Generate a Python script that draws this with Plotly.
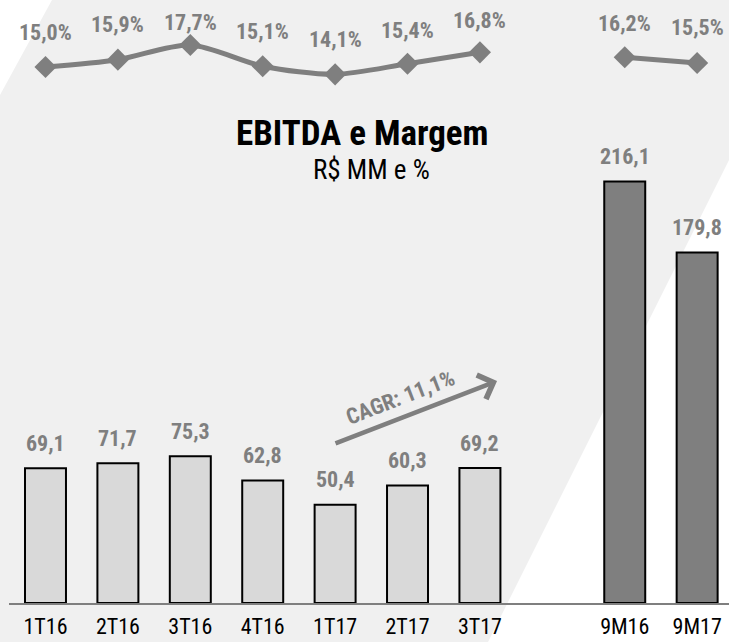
import plotly.graph_objects as go

# ---- data ----
categories_q = ["1T16", "2T16", "3T16", "4T16", "1T17", "2T17", "3T17"]
ebitda_q = [69.1, 71.7, 75.3, 62.8, 50.4, 60.3, 69.2]
margin_q = [15.0, 15.9, 17.7, 15.1, 14.1, 15.4, 16.8]

categories_9m = ["9M16", "9M17"]
ebitda_9m = [216.1, 179.8]
margin_9m = [16.2, 15.5]

cagr_label = "CAGR: 11,1%"
title_text = "EBITDA e Margem"
subtitle_text = "R$ MM e %"

# ---- positions (slot index on the category axis; one empty slot before 9M) ----
x_q = list(range(len(categories_q)))
x_9m = [len(categories_q) + 1 + i for i in range(len(categories_9m))]

# per-label vertical offsets (px) for the margin labels
margin_shift_q = [35, 35, 23, 35, 35, 33, 32]
margin_shift_9m = [34, 35]

W, H = 729, 642
ML, MR, MT, MB = 9, 0, 0, 39
PW, PH = W - ML - MR, H - MT - MB

FONT_C = "Roboto Condensed, Liberation Sans Narrow, DejaVu Sans Condensed, Roboto, sans-serif"
GRAY = "#7f7f7f"
PX_PER_UNIT = 1.95          # bar axis scale
PCT_PX = 8.15               # margin axis scale
PCT_REF, PCT_REF_Y = 15.0, 67


def fmt(v, suffix=""):
    return f"{v:.1f}".replace(".", ",") + suffix


def px2paper(px, py):
    return ((px - ML) / PW, 1 - (py - MT) / PH)


fig = go.Figure()

# bars
fig.add_trace(go.Bar(x=x_q, y=ebitda_q, width=0.566,
                     marker=dict(color="#d9d9d9", line=dict(color="black", width=2)),
                     hoverinfo="skip", showlegend=False))
fig.add_trace(go.Bar(x=x_9m, y=ebitda_9m, width=0.566,
                     marker=dict(color=GRAY, line=dict(color="black", width=2)),
                     hoverinfo="skip", showlegend=False))

# margin lines
fig.add_trace(go.Scatter(x=x_q, y=margin_q, yaxis="y2", mode="lines+markers",
                         line=dict(color=GRAY, width=5, shape="spline", smoothing=0.8),
                         marker=dict(symbol="diamond", size=17, color=GRAY),
                         hoverinfo="skip", showlegend=False))
fig.add_trace(go.Scatter(x=x_9m, y=margin_9m, yaxis="y2", mode="lines+markers",
                         line=dict(color=GRAY, width=5),
                         marker=dict(symbol="diamond", size=17, color=GRAY),
                         hoverinfo="skip", showlegend=False))

annotations = []
lab_font = dict(family=FONT_C, size=22, color=GRAY, weight="bold")
# bar value labels
for xv, v in zip(x_q + x_9m, ebitda_q + ebitda_9m):
    annotations.append(dict(x=xv, y=v, xref="x", yref="y", text=fmt(v),
                            showarrow=False, yshift=25, yanchor="middle", xanchor="center",
                            font=lab_font))
# margin labels
for xv, v, s in zip(x_q + x_9m, margin_q + margin_9m, margin_shift_q + margin_shift_9m):
    annotations.append(dict(x=xv, y=v, xref="x", yref="y2", text=fmt(v, "%"),
                            showarrow=False, yshift=s, yanchor="middle", xanchor="center",
                            font=lab_font))


def px2data(px, py):
    return ((px - 45.5) / 72.4, (603 - py) / PX_PER_UNIT)


# CAGR arrow
tipx, tipy = px2data(497, 381)
tailx, taily = px2data(334, 444)
annotations.append(dict(x=tipx, y=tipy, ax=tailx, ay=taily, xref="x", yref="y",
                        axref="x", ayref="y", text="", showarrow=True,
                        arrowhead=4, arrowsize=1.1, arrowwidth=4.5, arrowcolor=GRAY))
cx, cy = px2data(400, 397)
annotations.append(dict(x=cx, y=cy, xref="x", yref="y", text=cagr_label,
                        showarrow=False, textangle=-21, xanchor="center", yanchor="middle",
                        font=dict(family=FONT_C, size=22, color=GRAY, weight="bold")))

# title / subtitle
tx, ty = px2paper(362, 133)
annotations.append(dict(x=tx, y=ty, xref="paper", yref="paper", text=title_text,
                        showarrow=False, xanchor="center", yanchor="middle",
                        font=dict(family=FONT_C, size=35, color="black", weight="bold")))
sx, sy = px2paper(371, 170)
annotations.append(dict(x=sx, y=sy, xref="paper", yref="paper", text=subtitle_text,
                        showarrow=False, xanchor="center", yanchor="middle",
                        font=dict(family=FONT_C, size=27, color="black")))

# background diagonal band
poly = [(52, 0), (809, 0), (488, 642), (0, 642), (0, 95)]
pts = [px2paper(*p) for p in poly]
path = "M " + " L ".join(f"{a:.4f},{b:.4f}" for a, b in pts) + " Z"

fig.update_layout(
    width=W, height=H,
    margin=dict(l=ML, r=MR, t=MT, b=MB, autoexpand=False),
    paper_bgcolor="white", plot_bgcolor="rgba(0,0,0,0)",
    barmode="overlay",
    shapes=[dict(type="path", path=path, xref="paper", yref="paper",
                 fillcolor="#f0f0f0", line=dict(width=0), layer="below")],
    annotations=annotations,
    xaxis=dict(range=[-0.504, 9.44], tickvals=x_q + x_9m, ticktext=categories_q + categories_9m,
               showgrid=False, zeroline=False, showline=True, linecolor=GRAY, linewidth=2,
               ticks="", ticklabelstandoff=3,
               tickfont=dict(family=FONT_C, size=22, color="black")),
    yaxis=dict(range=[0, PH / PX_PER_UNIT], visible=False, showgrid=False, zeroline=False),
    yaxis2=dict(range=[PCT_REF - (603 - PCT_REF_Y) / PCT_PX, PCT_REF + PCT_REF_Y / PCT_PX],
                overlaying="y", visible=False, showgrid=False, zeroline=False),
)

fig.write_html("out.html", config={"displayModeBar": False},
               post_script="document.body.style.margin='0px';document.body.style.overflow='hidden';")
